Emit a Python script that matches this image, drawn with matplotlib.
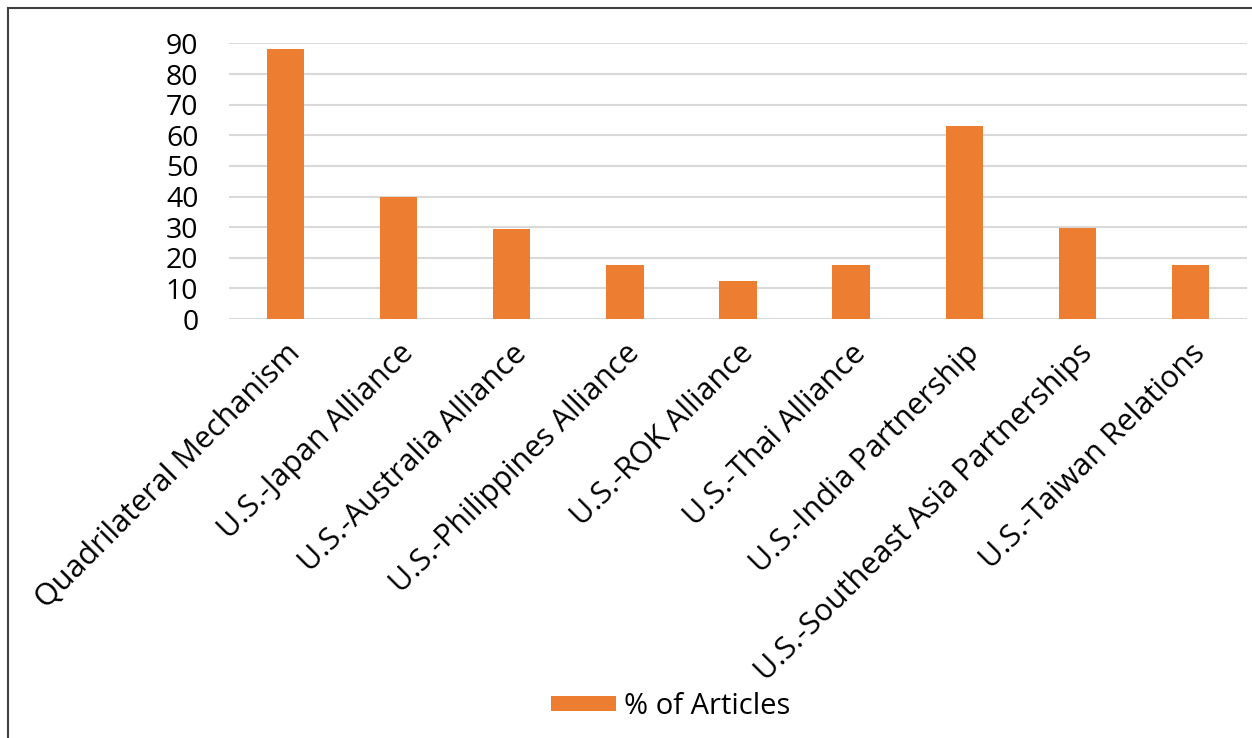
import matplotlib
matplotlib.use("Agg")
import matplotlib.pyplot as plt
from matplotlib.lines import Line2D

categories = ["Quadrilateral Mechanism", "U.S.-Japan Alliance", "U.S.-Australia Alliance",
              "U.S.-Philippines Alliance", "U.S.-ROK Alliance", "U.S.-Thai Alliance",
              "U.S.-India Partnership", "U.S.-Southeast Asia Partnerships", "U.S.-Taiwan Relations"]
values = [88.2, 40.0, 29.4, 17.6, 12.5, 17.6, 63.2, 29.8, 17.6]
yticks = [0, 10, 20, 30, 40, 50, 60, 70, 80, 90]
series_name = "% of Articles"

plt.rcParams['font.family'] = ['Open Sans', 'DejaVu Sans']

fig = plt.figure(figsize=(12.52, 7.38), dpi=100)
ax = fig.add_axes([229/1252, (738-319)/738, 1018/1252, (319-43.5)/738])

x = list(range(len(categories)))
bars = ax.bar(x, values, width=0.33, color="#ED7D31", label=series_name, zorder=3)
ax.set_xlim(-0.5, len(categories) - 0.5)
ax.set_ylim(0, 90)
ax.set_yticks(yticks)
ax.set_yticklabels([str(t) for t in yticks], fontsize=20.5)
ax.yaxis.grid(True, color="#d9d9d9", linewidth=1.5, zorder=0)
ax.set_axisbelow(True)
for s in ax.spines.values():
    s.set_visible(False)
ax.tick_params(axis='y', length=0, pad=22)
ax.tick_params(axis='x', length=0, pad=14)
ax.set_xticks(x)
ax.set_xticklabels(categories, rotation=45, ha='right', va='top',
                   rotation_mode='anchor', fontsize=22)

leg = fig.legend(handles=[bars], labels=[series_name], loc='center',
                 bbox_to_anchor=(671/1252, (738-706)/738), frameon=False,
                 fontsize=21, handlelength=2.2, handleheight=0.42, handletextpad=0.3)

fig.add_artist(Line2D([8/1252, 1], [1-8/738, 1-8/738], color="#404040", linewidth=1.5))
fig.add_artist(Line2D([8/1252, 8/1252], [0, 1-8/738], color="#404040", linewidth=1.5))

fig.savefig("out.png", dpi=100)
